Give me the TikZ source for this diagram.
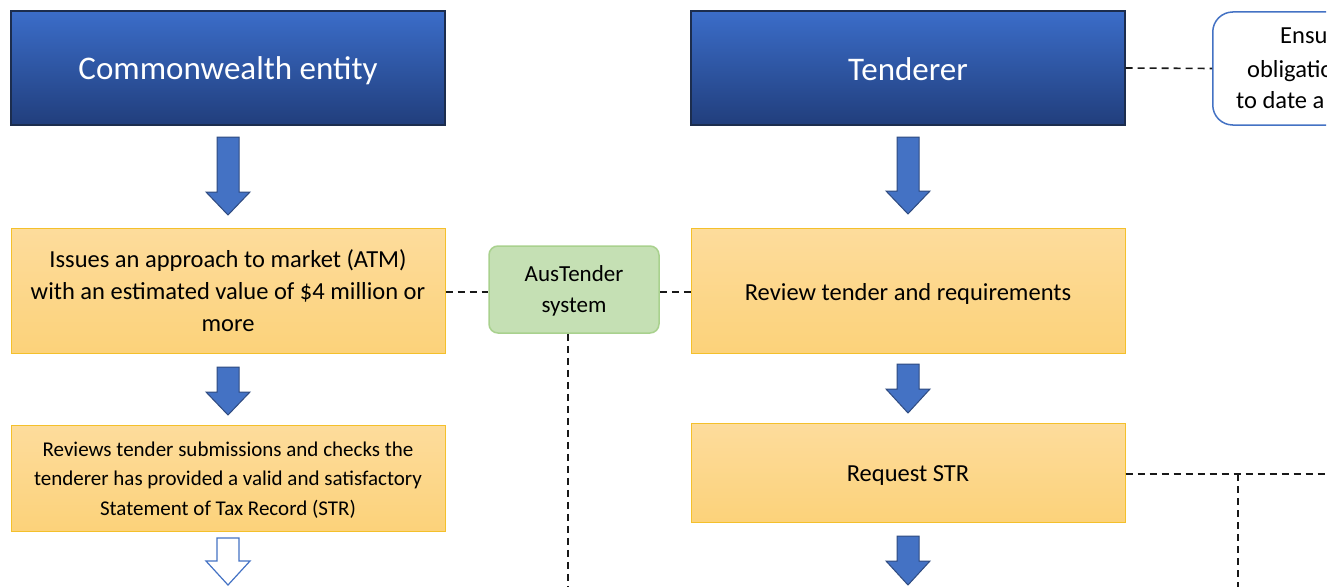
\documentclass[tikz,border=0pt]{standalone}
\usepackage{fontspec}
\setmainfont{Carlito}
\usetikzlibrary{calc}
\definecolor{hdrtop}{HTML}{3B6DC9}
\definecolor{hdrbot}{HTML}{213E7C}
\definecolor{hdrline}{HTML}{1C2D4E}
\definecolor{ortop}{HTML}{FDDC9C}
\definecolor{orbot}{HTML}{FCD27A}
\definecolor{orline}{HTML}{F4C02B}
\definecolor{grfill}{HTML}{C5E0B4}
\definecolor{grline}{HTML}{A9D18E}
\definecolor{arfill}{HTML}{4472C4}
\definecolor{arline}{HTML}{2F4B80}
\definecolor{ensline}{HTML}{4472C4}
\newcommand\dnarrow[5][blkarrow]{%
  \draw[#1] (#2-11,#3) -- (#2+11,#3) -- (#2+11,#4) -- (#2+22,#4) -- (#2,#5) -- (#2-22,#4) -- (#2-11,#4) -- cycle;}
\newcommand\lowered[2]{\raisebox{-#1pt}[\height][\depth]{#2}}
\begin{document}
\begin{tikzpicture}[x=1pt,y=-1pt,
  hdr/.style={draw=hdrline, line width=1.2pt, top color=hdrtop, bottom color=hdrbot,
    text=white, font=\fontsize{33}{38}\selectfont, minimum width=434pt, minimum height=114pt, inner sep=0pt},
  obox/.style={draw=orline, line width=1pt, top color=ortop, bottom color=orbot,
    text=black, align=center, minimum width=434pt, inner sep=0pt, font=\fontsize{24.5}{32}\selectfont},
  gbox/.style={draw=grline, line width=1.5pt, fill=grfill, rounded corners=9pt,
    minimum width=170pt, minimum height=87pt, inner sep=0pt},
  txt/.style={align=center, inner sep=0pt},
  ebox/.style={draw=ensline, line width=1.5pt, fill=white, rounded corners=20pt,
    minimum width=434pt, minimum height=113pt, inner sep=0pt},
  dline/.style={draw=black!90, line width=1.6pt, dash pattern=on 7pt off 5pt},
  blkarrow/.style={fill=arfill, draw=arline, line width=1pt, line join=miter},
  hollowarrow/.style={fill=white, draw=arfill, line width=1.2pt, line join=miter},
  etext/.style={anchor=base west, inner sep=0pt, font=\fontsize{24.5}{30}\selectfont}]
\useasboundingbox (0,0) rectangle (1343,586);
\fill[white] (0,0) rectangle (1343,586);
\clip (0,0) rectangle (1326,586);

% header boxes
\node[hdr] (ce) at (228,68) {\lowered{3}{Commonwealth entity}};
\node[hdr] (ten) at (908,68) {\lowered{1}{Tenderer}};
\node[ebox, anchor=west] (ens) at (1212,68.5) {};
\node[etext] (ens1) at (1280,44) {Ensu};
\node[etext] (ens2) at (1247,77.5) {obligatio};
\node[etext] (ens3) at (1236,108.5) {to date a};

% left column
\node[obox, minimum height=125pt] (iss) at (228,290.5) {Issues an approach to market (ATM)\\with an estimated value of \$4 million or\\more};
\node[obox, minimum height=106pt] (rvw) at (228,478) {};
\node[txt, font=\fontsize{21}{29.5}\selectfont] (rvwtext) at ($(rvw.center)+(0,2)$) {Reviews tender submissions and checks the\\tenderer has provided a valid and satisfactory\\Statement of Tax Record (STR)};

% middle
\node[gbox] (aus) at (574,289.5) {};
\node[txt, font=\fontsize{23}{31.5}\selectfont] (austext) at ($(aus.center)+(0,1.5)$) {AusTender\\system};

% right column
\node[obox, minimum height=125pt] (rev) at (908,290.5) {\lowered{3}{Review tender and requirements}};
\node[obox, minimum height=99pt] (req) at (908,472.5) {\lowered{3}{Request STR}};

% dashed connectors
\draw[dline] (ten.east) -- (ens.west);
\draw[dline] (iss.east |- 0,292) -- (aus.west |- 0,292);
\draw[dline] (aus.east |- 0,292) -- (rev.west |- 0,292);
\draw[dline] ($(aus.south)+(-6,0)$) -- ++(0,260);
\coordinate (reqend) at (1330,474);
\coordinate (reqdrop) at (1238,474);
\draw[dline] (req.east |- reqend) -- (reqend);
\draw[dline] (reqdrop) -- ++(0,120);

% block arrows
\dnarrow{228}{137}{192}{215}
\dnarrow{228}{367}{392}{415}
\dnarrow[hollowarrow]{228}{538}{561}{585}
\dnarrow{908}{137}{191}{214}
\dnarrow{908}{364}{389}{413}
\dnarrow{908}{536}{561}{585}
\end{tikzpicture}
\end{document}
